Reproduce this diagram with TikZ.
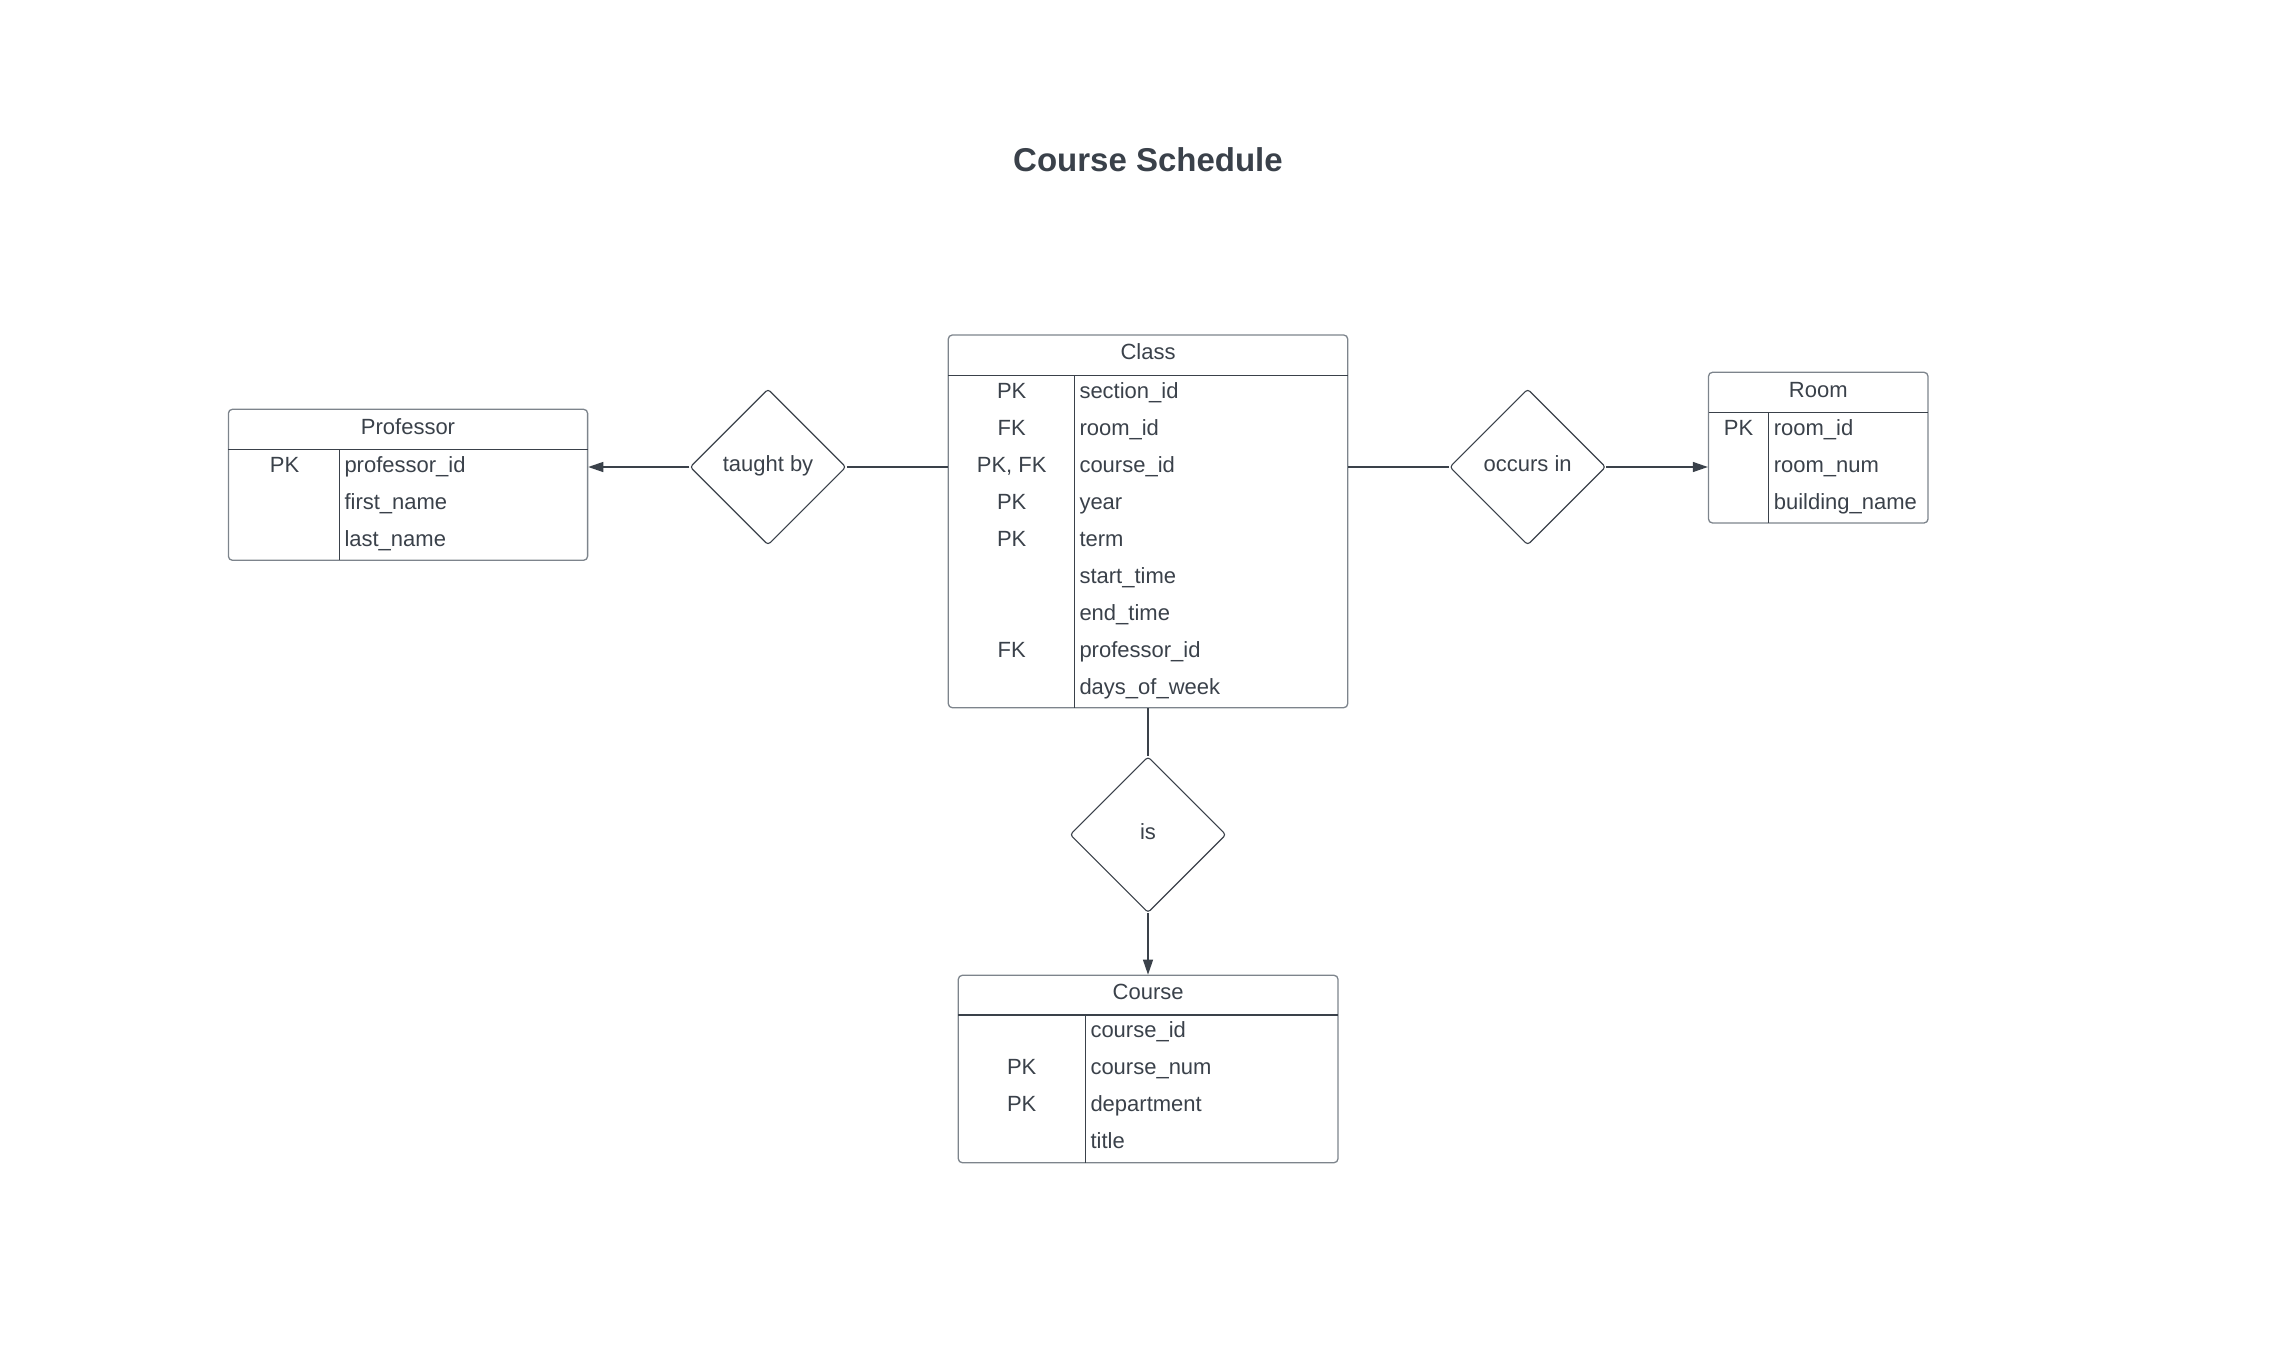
\documentclass[tikz,border=0pt]{standalone}
\usepackage{fontspec}
\setmainfont{Liberation Sans}
\usetikzlibrary{arrows.meta,shapes.geometric}
\definecolor{ink}{HTML}{3A414A}
\definecolor{frame}{HTML}{7D848C}
\begin{document}
\begin{tikzpicture}[x=1pt,y=-1pt,
  every node/.style={text=ink,font=\fontsize{22}{26}\selectfont},
  tbl/.style={draw=frame,line width=1.3pt,rounded corners=4pt,inner sep=0pt},
  sepline/.style={draw=ink,line width=1.1pt},
  rel/.style={diamond,draw=ink,line width=1.1pt,rounded corners=3pt,minimum width=156pt,minimum height=156pt,inner sep=0pt},
  rellabel/.style={inner sep=0pt,anchor=base,yshift=-4.5pt},
  conn/.style={draw=ink,line width=1.3pt},
  arr/.style={conn,-{Triangle[length=15pt,width=10pt]}},
  key/.style={anchor=base,inner sep=0pt},
  att/.style={anchor=base west,inner sep=0pt},
  hdr/.style={anchor=base,inner sep=0pt}]
\useasboundingbox (0,0) rectangle (2273,1360);

% title
\node[anchor=base,inner sep=0pt,font=\fontsize{33}{38}\selectfont\bfseries] (title) at (1148,171) {Course Schedule};

% ---------- Class ----------
\node[tbl,minimum width=399.4pt,minimum height=372.7pt] (class) at (1148,521.35) {};
\draw[sepline] (948.3,375.3) -- (1347.7,375.3);
\draw[sepline] (1074.3,375.3) -- (1074.3,707.7);
\node[hdr] (classH) at (1148,359.5) {Class};
\node[key] (ck1) at (1011.7,398) {PK};
\node[key] (ck2) at (1011.7,435) {FK};
\node[key] (ck3) at (1011.7,472) {PK, FK};
\node[key] (ck4) at (1011.7,509) {PK};
\node[key] (ck5) at (1011.7,546) {PK};
\node[key] (ck8) at (1011.7,657) {FK};
\node[att] (ca1) at (1079.3,398) {section\_id};
\node[att] (ca2) at (1079.3,435) {room\_id};
\node[att] (ca3) at (1079.3,472) {course\_id};
\node[att] (ca4) at (1079.3,509) {year};
\node[att] (ca5) at (1079.3,546) {term};
\node[att] (ca6) at (1079.3,583) {start\_time};
\node[att] (ca7) at (1079.3,620) {end\_time};
\node[att] (ca8) at (1079.3,657) {professor\_id};
\node[att] (ca9) at (1079.3,694) {days\_of\_week};

% ---------- Professor ----------
\node[tbl,minimum width=359.2pt,minimum height=151pt] (prof) at (408,484.8) {};
\draw[sepline] (228.4,449.7) -- (587.6,449.7);
\draw[sepline] (339.3,449.7) -- (339.3,560.3);
\node[hdr] (profH) at (408,434) {Professor};
\node[key] (pk1) at (284.6,472) {PK};
\node[att] (pa1) at (344.3,472) {professor\_id};
\node[att] (pa2) at (344.3,509) {first\_name};
\node[att] (pa3) at (344.3,546) {last\_name};

% ---------- Room ----------
\node[tbl,minimum width=219.5pt,minimum height=150.7pt] (room) at (1818.25,447.65) {};
\draw[sepline] (1708.5,412.3) -- (1928,412.3);
\draw[sepline] (1768.6,412.3) -- (1768.6,523);
\node[hdr] (roomH) at (1818.25,397) {Room};
\node[key] (rk1) at (1738.6,435.3) {PK};
\node[att] (ra1) at (1773.6,435.3) {room\_id};
\node[att] (ra2) at (1773.6,472.3) {room\_num};
\node[att] (ra3) at (1773.6,509.3) {building\_name};

% ---------- Course ----------
\node[tbl,minimum width=379.7pt,minimum height=187.4pt] (course) at (1148.15,1069) {};
\draw[sepline] (958.3,1015) -- (1338,1015);
\draw[sepline] (1085.3,1015) -- (1085.3,1162.7);
\node[hdr] (courseH) at (1148.15,999.5) {Course};
\node[key] (ok2) at (1021.7,1074) {PK};
\node[key] (ok3) at (1021.7,1111) {PK};
\node[att] (oa1) at (1090.3,1037) {course\_id};
\node[att] (oa2) at (1090.3,1074) {course\_num};
\node[att] (oa3) at (1090.3,1111) {department};
\node[att] (oa4) at (1090.3,1148) {title};

% ---------- relationships ----------
\node[rel] (tb) at (768,467) {};
\node[rel] (oc) at (1527.7,467) {};
\node[rel] (isr) at (1148,834.7) {};
\node[rellabel] (tbL) at (tb.center) {taught by};
\node[rellabel] (ocL) at (oc.center) {occurs in};
\node[rellabel] (isL) at (isr.center) {is};

\draw[conn] (class.west |- tb) -- (tb.east);
\draw[arr] (tb.west) -- (tb.west -| prof.east);
\draw[conn] (class.east |- oc) -- (oc.west);
\draw[arr] (oc.east) -- (oc.east -| room.west);
\draw[conn] (class.south) -- (isr.north);
\draw[arr] (isr.south) -- (isr.south |- course.north);
\end{tikzpicture}
\end{document}
